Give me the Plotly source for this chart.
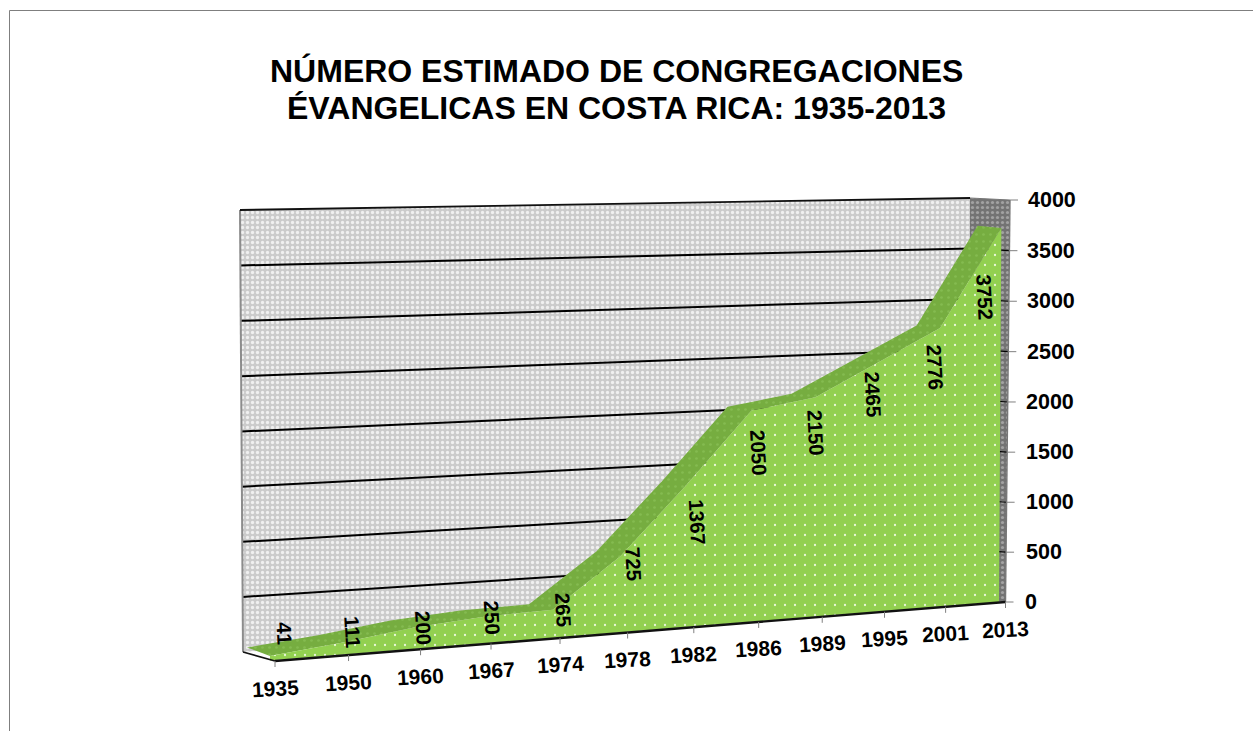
import numpy as np
import plotly.graph_objects as go

# ---- data -------------------------------------------------------------
anos = ["1935", "1950", "1960", "1967", "1974", "1978", "1982", "1986", "1989", "1995", "2001", "2013"]
congregaciones = [41, 111, 200, 250, 265, 725, 1367, 2050, 2150, 2465, 2776, 3752]
marcas_valor = [0, 500, 1000, 1500, 2000, 2500, 3000, 3500, 4000]
titulo_1 = "NÚMERO ESTIMADO DE CONGREGACIONES"
titulo_2 = "ÉVANGELICAS EN COSTA RICA: 1935-2013"

# label placement relative to the projected point (pixels)
label_dx = [10, 4, 3, 1, 3, 6, 4, 0, -6, -11, -10, -21]
label_dy = [-23, -11, 0, 1, 0, 7, 37, 42, 36, 32, 39, 69]

VMAX = 4000.0
N = len(anos) - 1
FONT = "Liberation Sans"


def plane(bl, br, tr, tl):
    """Perspective mapping of (category index, value) onto a plane of the 3-D box."""
    src = [(0, 0), (N, 0), (N, VMAX), (0, VMAX)]
    dst = [bl, br, tr, tl]
    A, b = [], []
    for (u, v), (x, y) in zip(src, dst):
        A.append([u, v, 1, 0, 0, 0, -u * x, -v * x])
        A.append([0, 0, 0, u, v, 1, -u * y, -v * y])
        b += [x, y]
    h = np.linalg.solve(np.array(A, float), np.array(b, float))
    H = np.append(h, 1).reshape(3, 3)

    def project(u, v):
        p = H @ np.array([u, v, 1.0])
        return float(p[0] / p[2]), float(p[1] / p[2])

    return project


wall = plane((243, 652), (970, 600), (970, 198), (240, 210))
area_back = plane((247, 652), (978, 601), (977.5, 201), (244, 212))
area_front = plane((270, 660.5), (999, 602), (1001.5, 203), (267, 218))
axis_plane = plane((275, 661), (1005.5, 602), (1010, 200), (272, 211))

fig = go.Figure()


def poly(points, bg, fg=None, size=5, solidity=0.3):
    xs, ys = zip(*points)
    kw = {}
    if fg:
        kw["fillpattern"] = dict(shape=".", bgcolor=bg, fgcolor=fg, size=size, solidity=solidity, fillmode="replace")
    fig.add_trace(go.Scatter(x=list(xs) + [xs[0]], y=list(ys) + [ys[0]], mode="lines", fill="toself",
                             fillcolor=bg, line=dict(width=0), hoverinfo="skip", showlegend=False, **kw))


def line(p, q, color, width):
    fig.add_trace(go.Scatter(x=[p[0], q[0]], y=[p[1], q[1]], mode="lines", line=dict(color=color, width=width),
                             hoverinfo="skip", showlegend=False))


# frame of the page
fig.add_trace(go.Scatter(x=[9.5, 9.5, 1253], y=[731, 10.5, 10.5], mode="lines",
                         line=dict(color="#7f7f7f", width=1), hoverinfo="skip", showlegend=False))

# back wall and side wall
poly([wall(0, 0), wall(N, 0), wall(N, VMAX), wall(0, VMAX)], "#cbcbcb", "#f0f0f0", 5, 0.34)
poly([wall(N, 0), axis_plane(N, 0), axis_plane(N, VMAX), wall(N, VMAX)], "#737373", "#a2a2a2", 5, 0.32)

# grid lines
for v in marcas_valor[1:-1]:
    line(wall(0, v), wall(N, v), "black", 2)
    line(wall(N, v), axis_plane(N, v), "black", 1.2)

# box edges
line(wall(0, 0), wall(0, VMAX), "#8c8c8c", 2)
line(wall(0, VMAX), wall(N, VMAX), "#111111", 1.8)
line(wall(N, VMAX), axis_plane(N, VMAX), "#777777", 1.2)
line(axis_plane(N, VMAX), axis_plane(N, 0), "#777777", 1.4)

# area: top band, then front face
idx = list(range(N + 1))
back_pts = [area_back(i, v) for i, v in zip(idx, congregaciones)]
front_pts = [area_front(i, v) for i, v in zip(idx, congregaciones)]
poly(back_pts + front_pts[::-1], "#76ad40", "#84bb50", 7, 0.12)
poly(front_pts + [area_front(N, 0), area_front(0, 0)], "#92d050", "#e8f6d8", 10, 0.04)

# floor edges
line(wall(0, 0), axis_plane(0, 0), "#111111", 1.8)
line(axis_plane(0, 0), axis_plane(N, 0), "#111111", 2.4)

annotations = []


def label(x, y, text, size=20, angle=0, anchor="center"):
    annotations.append(dict(x=x, y=y, xref="x", yref="y", text=text, showarrow=False, textangle=angle,
                            xanchor=anchor, yanchor="middle",
                            font=dict(family=FONT, size=size, color="black", weight="bold")))


# category ticks and labels
for i, a in enumerate(anos):
    x, y = axis_plane(i, 0)
    line((x, y), (x, y + 6), "#808080", 1)
    label(x, y + 27, a, 21, -3)

# value ticks and labels
for v in marcas_valor:
    x, y = axis_plane(N, v)
    line((x, y), (x + 8, y), "#808080", 1)
    label(x + 15.5 + (1010 - x) * 0.5, y, str(v), 21.5, 0, "left")

# data labels
for i, v in enumerate(congregaciones):
    x = axis_plane(i, 0)[0] + label_dx[i]
    y = area_front(i, v)[1] + label_dy[i]
    label(x, y, str(v), 20.5, 87)

# title
label(616, 71, titulo_1, 32)
label(616, 108, titulo_2, 32)

fig.update_layout(
    width=1253, height=731, margin=dict(l=0, r=0, t=0, b=0),
    paper_bgcolor="white", plot_bgcolor="white", showlegend=False,
    xaxis=dict(range=[0, 1253], visible=False, fixedrange=True),
    yaxis=dict(range=[731, 0], visible=False, fixedrange=True),
    annotations=annotations,
)

fig.write_html("out.html", config=dict(displayModeBar=False),
               post_script="document.body.style.margin='0';document.body.style.overflow='hidden';")
